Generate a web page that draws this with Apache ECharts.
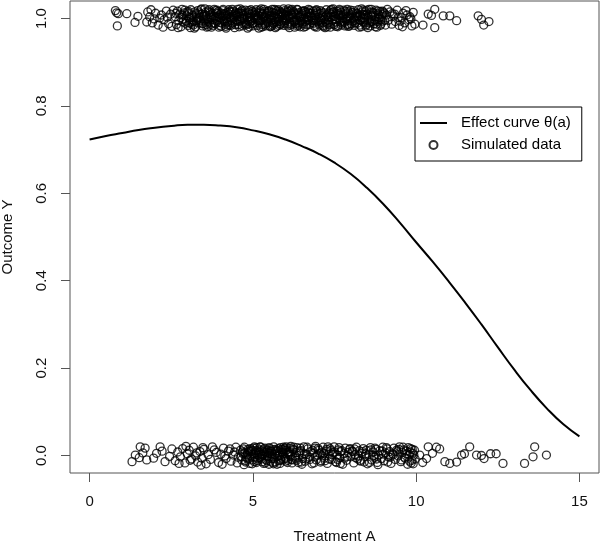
<!DOCTYPE html>
<html>
<head>
<meta charset="utf-8">
<script src="https://cdn.jsdelivr.net/npm/echarts@6/dist/echarts.min.js"></script>
<style>html,body{margin:0;padding:0;background:#fff}#c{width:600px;height:543px}</style>
</head>
<body>
<div id="c"></div>
<script>
// Effect curve theta(a)
var curveA = [0,0.5,1,1.5,2,2.5,3,3.5,4,4.5,5,5.5,6,6.5,7,7.5,8,8.5,9,9.5,10,10.5,11,11.5,12,12.5,13,13.5,14,14.5,15];
var curveTheta = [0.723,0.731,0.738,0.745,0.750,0.754,0.757,0.757,0.755,0.751,0.744,0.735,0.723,0.708,0.691,0.670,0.644,0.612,0.575,0.533,0.488,0.444,0.398,0.350,0.300,0.248,0.197,0.150,0.108,0.072,0.044];

// Simulated data with outcome 1 (jittered vertically)
var onesPoints = [
[0.79,1.018],[0.83,1.013],[0.88,1.011],[1.14,1.011],[1.48,1.005],[0.85,0.983],[1.39,0.991],
[1.78,1.015],[1.84,1.004],[1.92,0.990],[2.02,1.012],[1.75,0.992],[1.88,1.020],[2.10,0.985],[2.20,1.008],[2.28,0.997],[2.35,1.017],[2.42,0.988],[2.15,1.001],[2.48,1.010],[2.52,0.982],[1.98,0.999],[2.38,1.003],[2.56,1.019],[2.25,0.980],
[2.62,1.004],[2.66,0.986],[2.69,1.017],[2.73,0.995],[2.76,1.010],[2.80,0.981],[2.83,1.021],[2.87,0.999],[2.90,1.013],[2.94,0.989],
[2.97,1.006],[2.64,1.012],[2.71,0.979],[2.79,1.002],[2.86,0.992],[2.92,1.019],[3.01,0.984],[3.04,1.011],[3.07,0.997],[3.10,1.020],
[3.13,0.987],[3.16,1.007],[3.19,0.993],[3.22,1.015],[3.25,0.981],[3.28,1.003],[3.31,1.018],[3.34,0.990],[3.37,1.009],[3.40,0.996],
[3.43,1.022],[3.46,0.983],[3.49,1.005],[3.52,0.994],[3.55,1.014],[3.58,0.986],[3.61,1.000],[3.64,1.017],[3.67,0.991],[3.70,1.008],
[3.73,0.980],[3.76,1.012],[3.79,0.998],[3.82,1.021],[3.85,0.988],[3.88,1.004],[3.91,0.994],[3.94,1.016],[3.97,0.984],[3.99,1.009],
[3.06,1.001],[3.21,0.978],[3.36,1.013],[3.50,0.999],[3.63,0.982],[3.78,1.006],[3.90,1.019],[3.15,0.992],[3.44,1.010],[3.72,0.987],
[4.02,1.002],[4.05,0.989],[4.08,1.018],[4.11,0.996],[4.14,1.011],[4.17,0.982],[4.20,1.007],[4.23,0.993],[4.26,1.020],[4.29,0.985],
[4.32,1.003],[4.35,1.015],[4.38,0.990],[4.41,1.009],[4.44,0.979],[4.47,1.013],[4.50,0.997],[4.53,1.021],[4.56,0.986],[4.59,1.005],
[4.62,0.994],[4.65,1.017],[4.68,0.983],[4.71,1.008],[4.74,0.998],[4.77,1.019],[4.80,0.988],[4.83,1.002],[4.86,1.014],[4.89,0.981],
[4.92,1.010],[4.95,0.995],[4.98,1.016],[4.04,1.012],[4.19,1.000],[4.33,0.984],[4.48,1.006],[4.61,1.022],[4.76,0.991],[4.90,1.004],
[4.13,0.993],[4.40,1.017],[4.66,1.001],[4.85,0.987],[4.27,1.010],[5.01,0.990],[5.04,1.013],[5.07,0.999],[5.10,1.020],[5.13,0.984],
[5.16,1.006],[5.19,0.994],[5.22,1.015],[5.25,0.980],[5.28,1.009],[5.31,0.997],[5.34,1.021],[5.37,0.987],[5.40,1.003],[5.43,1.012],
[5.46,0.991],[5.49,1.018],[5.52,0.983],[5.55,1.007],[5.58,0.996],[5.61,1.014],[5.64,0.988],[5.67,1.001],[5.70,1.019],[5.73,0.982],
[5.76,1.010],[5.79,0.993],[5.82,1.016],[5.85,0.986],[5.88,1.005],[5.91,0.998],[5.94,1.022],[5.97,0.989],[5.99,1.008],[5.03,1.002],
[5.18,0.978],[5.32,1.011],[5.47,1.000],[5.60,0.985],[5.74,1.017],[5.89,0.992],[5.09,1.015],[5.24,0.995],[5.38,1.008],[5.53,0.981],
[5.68,1.012],[5.83,1.003],[5.95,0.984],[5.12,1.004],[5.41,0.989],[5.66,1.021],[5.86,1.011],[6.01,0.995],[6.04,1.014],[6.07,0.983],
[6.10,1.007],[6.13,0.992],[6.16,1.019],[6.19,0.987],[6.22,1.002],[6.25,1.013],[6.28,0.980],[6.31,1.010],[6.34,0.997],[6.37,1.020],
[6.40,0.985],[6.43,1.005],[6.46,0.994],[6.49,1.016],[6.52,0.989],[6.55,1.001],[6.58,1.018],[6.61,0.982],[6.64,1.009],[6.67,0.996],
[6.70,1.021],[6.73,0.986],[6.76,1.004],[6.79,1.012],[6.82,0.991],[6.85,1.017],[6.88,0.984],[6.91,1.007],[6.94,0.998],[6.97,1.015],
[6.03,1.000],[6.18,1.011],[6.32,0.988],[6.47,1.008],[6.60,0.993],[6.75,1.019],[6.90,0.981],[6.12,0.979],[6.39,1.013],[6.66,1.003],
[6.84,0.995],[6.24,1.016],[6.54,0.987],[7.01,1.010],[7.04,0.985],[7.07,1.018],[7.10,0.997],[7.13,1.006],[7.16,0.982],[7.19,1.013],
[7.22,0.993],[7.25,1.020],[7.28,0.988],[7.31,1.003],[7.34,1.015],[7.37,0.980],[7.40,1.009],[7.43,0.996],[7.46,1.022],[7.49,0.986],
[7.52,1.005],[7.55,0.992],[7.58,1.017],[7.61,0.984],[7.64,1.008],[7.67,0.999],[7.70,1.014],[7.73,0.989],[7.76,1.002],[7.79,1.019],
[7.82,0.983],[7.85,1.011],[7.88,0.995],[7.91,1.016],[7.94,0.987],[7.97,1.006],[7.06,1.001],[7.21,0.979],[7.36,1.012],[7.50,0.998],
[7.65,1.021],[7.80,0.991],[7.93,1.004],[7.15,0.990],[7.44,1.014],[7.71,0.985],[8.02,1.009],[8.05,0.994],[8.08,1.018],[8.11,0.984],
[8.14,1.004],[8.17,1.013],[8.20,0.989],[8.23,1.020],[8.26,0.997],[8.29,1.007],[8.32,0.981],[8.35,1.015],[8.38,0.992],[8.41,1.002],
[8.44,1.017],[8.47,0.986],[8.50,1.010],[8.53,0.996],[8.56,1.021],[8.59,0.983],[8.62,1.006],[8.65,0.993],[8.68,1.014],[8.71,0.988],
[8.74,1.003],[8.77,1.019],[8.80,0.980],[8.83,1.011],[8.86,0.998],[8.89,1.016],[8.92,0.987],[8.95,1.005],[8.98,0.994],[9.02,1.012],
[9.06,0.985],[9.09,1.008],[8.10,1.000],[8.28,0.985],[8.45,1.008],[8.63,1.021],[8.81,0.993],[8.96,1.017],[8.19,1.011],[8.52,0.979],
[2.84,1.008],[2.96,0.994],[3.03,1.016],[3.11,1.003],[3.18,0.985],[3.27,1.011],[3.33,0.998],[3.41,1.020],[3.48,0.989],[3.57,1.007],
[3.62,0.993],[3.69,1.014],[3.77,0.984],[3.84,1.001],[3.92,1.011],[3.98,0.991],[4.07,1.005],[4.15,0.987],[4.22,1.014],[4.31,0.999],
[4.37,1.021],[4.45,0.992],[4.51,1.008],[4.58,0.981],[4.64,1.012],[4.72,1.000],[4.79,0.985],[4.87,1.018],[4.93,1.001],[4.99,0.988],
[5.06,1.009],[5.14,0.996],[5.21,1.019],[5.29,0.986],[5.35,1.004],[5.42,0.994],[5.50,1.015],[5.57,0.982],[5.63,1.006],[5.71,0.993],
[5.78,1.020],[5.84,0.988],[5.92,1.010],[5.98,0.999],[6.06,1.017],[6.14,0.985],[6.21,1.008],[6.27,0.995],[6.35,1.021],[6.42,0.990],
[6.48,1.003],[6.56,0.980],[6.63,1.014],[6.71,0.997],[6.78,1.006],[6.86,0.989],[6.93,1.018],[6.99,0.993],[7.08,1.012],[7.14,0.984],
[7.23,1.004],[7.30,0.996],[7.38,1.019],[7.45,0.988],[7.53,1.011],[7.60,0.981],[7.68,1.007],[7.75,0.994],[7.83,1.016],[7.90,0.986],
[7.98,1.001],[8.06,1.013],[8.13,0.990],[8.21,1.006],[8.30,0.995],[8.37,1.019],[8.46,0.983],[8.54,1.004],[8.61,0.992],[8.69,1.012],
[8.78,0.987],[8.85,1.008],[8.93,0.997],[9.00,1.015],[3.09,0.979],[3.53,1.022],[3.96,0.980],[4.42,1.001],[4.84,0.978],[5.26,1.022],
[5.69,0.979],[6.09,1.022],[6.51,1.011],[6.96,0.980],[7.41,1.021],[7.86,1.000],[8.33,1.022],[8.75,0.981],[3.26,0.995],[3.68,1.003],
[4.10,1.009],[4.55,0.994],[4.97,1.011],[5.39,0.983],[5.81,1.007],[6.26,0.991],[6.69,1.015],[7.12,1.002],[7.56,0.997],[7.99,1.019],
[8.43,0.990],[8.88,1.002],[5.55,1.000],[5.98,1.018],[6.44,1.002],[6.87,0.997],[7.32,0.991],[7.77,1.010],[4.24,0.985],[4.69,1.012],
[5.15,1.000],[5.62,0.990],[6.05,1.004],[6.57,1.016],[7.02,0.995],[7.47,1.005],[7.92,0.982],[8.40,1.009],[5.45,1.016],[6.36,0.983],
[3.52,1.009],[3.59,0.980],[3.66,1.020],[3.74,1.001],[3.81,0.990],[3.89,1.013],[3.95,1.003],[4.03,0.982],[4.09,1.021],[4.16,1.006],
[4.21,0.991],[4.28,1.016],[4.34,0.996],[4.39,1.005],[4.46,0.986],[4.54,1.012],[4.60,0.999],[4.67,1.019],[4.73,0.987],[4.81,1.011],
[4.88,0.996],[4.94,1.020],[5.00,0.983],[5.08,1.007],[5.17,0.990],[5.23,1.012],[5.30,0.981],[5.36,1.017],[5.44,0.998],[5.51,1.005],
[5.59,1.021],[5.65,0.992],[5.72,1.003],[5.80,0.984],[5.87,1.014],[5.93,0.995],[6.00,1.010],[6.08,0.988],[6.15,1.002],[6.20,1.021],
[6.29,0.993],[6.38,1.007],[6.45,0.981],[6.53,1.017],[6.59,1.000],[6.65,0.986],[6.72,1.012],[6.80,1.001],[6.89,0.995],[6.95,1.020],
[7.03,0.989],[7.11,1.015],[7.18,0.998],[7.26,1.008],[7.33,0.986],[7.39,1.003],[7.48,1.016],[7.54,0.982],[7.62,1.011],[7.69,0.992],
[7.78,1.006],[7.84,0.997],[7.89,1.021],[7.96,0.983],[8.04,1.014],[8.12,0.996],[8.18,1.005],[8.25,0.980],[8.34,1.010],[8.42,0.998],
[8.49,1.019],[8.58,0.990],[8.66,1.008],[8.73,0.995],[8.82,1.017],[8.90,0.984],[8.97,1.009],[3.35,1.002],[3.45,0.988],[3.85,1.018],
[4.18,0.978],[4.57,1.014],[4.91,0.992],[5.33,1.002],[5.77,0.999],[6.11,1.016],[6.50,0.994],[6.92,1.011],[7.27,0.981],[7.66,1.018],
[8.01,0.988],[8.36,1.001],[8.64,1.015],[3.05,0.990],[2.99,1.015],[9.04,0.996],[9.27,1.011],[9.51,0.994],[9.69,1.018],[9.84,0.999],
[9.15,0.996],[9.20,1.015],[9.25,0.987],[9.30,1.006],[9.36,0.993],[9.42,1.019],[9.48,0.984],[9.55,1.002],[9.60,1.012],[9.65,0.990],
[9.72,1.008],[9.78,0.997],[9.81,1.004],[9.87,0.983],[9.91,1.014],[9.96,0.987],[9.34,1.010],[9.58,0.981],[9.12,1.021],[9.45,1.003],
[10.21,0.985],[10.37,1.010],[10.47,1.007],[10.57,1.021],[10.57,0.979],[10.83,1.006],[11.03,1.006],[11.24,0.995],[11.90,1.006],[12.00,0.998],[12.07,0.985],[12.23,0.993]
];

// Simulated data with outcome 0 (jittered vertically)
var zerosPoints = [
[1.30,-0.014],[1.40,0.001],[1.55,0.020],[1.70,0.017],[1.52,-0.005],[1.75,-0.010],[1.96,-0.006],[2.16,0.020],[2.31,-0.014],[2.05,0.005],[2.22,0.010],[2.45,-0.002],[1.63,0.006],[2.52,0.015],
[2.62,-0.012],[2.70,0.008],[2.78,-0.003],[2.85,0.016],[2.92,-0.017],[2.99,0.004],[3.05,0.012],[3.12,-0.008],[3.18,0.019],[3.25,-0.001],
[3.31,-0.015],[3.38,0.009],[3.44,-0.006],[3.50,0.014],[3.57,-0.019],[3.63,0.002],[2.74,-0.018],[2.95,0.021],[3.08,-0.011],[3.28,0.006],
[3.47,0.018],[3.70,-0.009],[3.82,0.013],[3.95,-0.016],[4.02,0.003],[4.10,0.017],[4.18,-0.007],[4.25,0.010],[4.33,-0.013],[4.40,0.001],
[4.48,0.019],[4.55,-0.004],[3.88,0.007],[4.06,-0.020],[4.30,0.015],[4.52,-0.017],[3.76,0.020],[4.14,-0.001],[3.41,-0.022],[4.44,0.008],
[4.62,0.012],[4.66,-0.010],[4.70,0.004],[4.74,0.019],[4.78,-0.015],[4.82,0.001],[4.86,0.014],[4.90,-0.006],[4.94,0.009],[4.98,-0.019],
[5.02,0.017],[5.06,-0.003],[5.10,0.011],[5.14,-0.012],[5.18,0.006],[5.22,0.020],[5.26,-0.008],[5.30,0.002],[5.34,0.015],[5.38,-0.017],
[5.42,0.008],[5.46,-0.001],[5.50,0.018],[5.54,-0.013],[5.58,0.004],[5.62,0.013],[5.66,-0.006],[5.70,0.010],[5.74,-0.020],[5.78,0.016],
[5.82,0.000],[5.86,-0.011],[5.90,0.007],[5.94,0.019],[5.98,-0.004],[6.02,0.012],[6.06,-0.016],[6.10,0.003],[6.14,0.017],[6.18,-0.009],
[4.68,0.008],[4.80,-0.004],[4.92,0.016],[5.04,-0.014],[5.16,0.001],[5.28,0.011],[5.40,-0.009],[5.52,0.005],[5.64,0.020],[5.76,-0.002],
[5.88,0.014],[6.00,-0.007],[6.12,0.009],[4.73,-0.021],[4.97,0.003],[5.21,-0.005],[5.45,0.012],[5.69,-0.015],[5.93,0.004],[6.16,0.021],
[5.12,0.018],[5.33,-0.018],[5.57,0.009],[5.80,-0.012],[6.05,0.006],[4.88,0.010],[5.36,0.003],[5.60,-0.003],[5.84,0.018],[5.08,0.007],
[6.22,-0.010],[6.26,0.013],[6.30,-0.002],[6.35,0.018],[6.39,-0.016],[6.43,0.006],[6.47,0.011],[6.52,-0.007],[6.56,0.020],[6.60,-0.013],
[6.64,0.002],[6.68,0.015],[6.73,-0.004],[6.77,0.009],[6.81,-0.019],[6.85,0.005],[6.90,0.017],[6.94,-0.010],[6.98,0.001],[7.02,0.012],
[7.07,-0.015],[7.11,0.007],[7.15,0.019],[7.19,-0.006],[7.24,0.010],[7.28,-0.018],[7.32,0.003],[7.36,0.016],[7.41,-0.009],[7.45,0.006],
[7.49,0.020],[7.53,-0.014],[7.58,0.001],[7.62,0.013],[7.66,-0.005],[7.70,0.009],[7.75,-0.020],[7.79,0.004],[7.83,0.017],[7.87,-0.011],
[7.92,0.007],[7.96,0.014],[8.00,-0.003],[8.04,0.010],[8.09,-0.017],[8.13,0.002],[8.17,0.019],[8.21,-0.008],[8.26,0.011],[8.30,-0.013],
[8.34,0.005],[8.38,0.016],[8.43,-0.002],[8.47,0.012],[8.51,-0.019],[8.55,0.003],[8.60,0.018],[8.64,-0.010],[8.68,0.008],[8.72,-0.004],
[8.77,0.014],[8.81,-0.016],[8.85,0.001],[8.89,0.011],[8.94,-0.007],[8.98,0.019],[9.02,-0.012],[9.06,0.006],[9.11,0.015],[9.15,-0.003],
[9.19,0.009],[9.23,-0.018],[9.28,0.004],[9.32,0.017],[9.36,-0.009],[9.40,0.012],[9.45,-0.001],[9.49,0.020],[9.53,-0.014],[9.57,0.007],
[9.62,0.013],[9.66,-0.006],[9.70,0.010],[9.74,-0.020],[9.79,0.002],[9.83,0.016],[9.87,-0.011],[9.90,0.005],[9.85,-0.017],[9.76,0.018],
[6.33,0.007],[6.62,-0.008],[6.92,0.021],[7.21,-0.012],[7.51,0.008],[7.81,-0.006],[8.11,0.015],[8.41,-0.015],[8.70,0.000],[9.00,0.003],
[6.50,-0.020],[7.05,0.004],[7.64,0.018],[8.24,-0.001],[8.83,-0.021],[9.42,0.009],[9.91,-0.019],[9.95,0.012],[9.97,-0.008],[9.80,-0.013],
[5.03,0.004],[5.11,-0.016],[5.19,0.013],[5.27,-0.002],[5.35,0.009],[5.43,-0.012],[5.51,0.016],[5.59,-0.007],[5.67,0.003],[5.75,0.011],
[5.83,-0.018],[5.91,0.008],[5.99,0.017],[6.07,-0.011],[6.15,0.002],[6.23,0.014],[6.31,-0.006],[6.41,0.010],[6.49,-0.015],[6.58,0.004],
[6.66,0.019],[6.75,-0.009],[6.83,0.012],[6.91,-0.003],[7.00,0.016],[7.09,-0.012],[7.17,0.005],[7.26,0.014],[7.34,-0.008],[7.43,0.002],
[7.56,-0.016],[7.72,0.011],[7.89,-0.002],[8.07,0.009],[8.28,-0.011],[8.45,0.004],[8.62,0.013],[8.79,-0.008],[8.96,0.010],[9.13,-0.015],
[9.30,0.002],[9.47,0.014],[9.64,-0.004],[9.82,0.008],[9.93,0.001],[4.85,-0.008],[5.24,0.019],[5.63,-0.019],[6.02,0.020],[6.45,0.017],
[6.87,-0.017],[7.30,0.020],[7.68,-0.018],[8.15,-0.005],[8.57,-0.016],[9.09,0.018],[9.60,0.019],[4.95,0.013],[5.47,0.006],[5.95,-0.008],
[4.64,-0.003],[4.71,0.015],[4.77,-0.012],[4.84,0.006],[4.91,-0.018],[4.99,0.011],[5.05,0.020],[5.13,-0.006],[5.20,0.008],[5.29,-0.014],
[5.37,0.017],[5.44,-0.003],[5.53,0.010],[5.61,-0.016],[5.68,0.014],[5.77,0.001],[5.85,-0.009],[5.92,0.013],[6.01,-0.013],[6.09,0.008],
[6.17,-0.002],[6.25,0.019],[6.34,-0.011],[4.76,0.006],[5.00,-0.010],[5.25,0.003],[5.49,-0.020],[5.72,0.006],[5.97,0.015],[6.20,-0.017],
[7.13,-0.001],[7.39,0.011],[7.60,-0.009],[7.98,0.016],[8.36,0.009],[8.74,0.017],[9.21,-0.004],[9.55,-0.010],[9.72,0.004],[9.88,0.014],
[10.11,0.001],[10.32,-0.007],[10.37,0.020],[10.62,0.019],[10.72,0.015],[10.88,-0.014],[11.03,-0.018],[11.24,-0.015],[11.39,0.001],[11.48,0.004],
[11.64,0.020],[11.85,0.001],[12.00,0.000],[12.08,-0.007],[12.28,0.004],[12.45,0.004],[12.66,-0.018],[13.32,-0.018],[13.58,-0.003],[13.63,0.020],
[13.99,0.001],[10.20,-0.016],[10.50,0.005]
];

var xTicks = [0, 5, 10, 15];
var yTicks = [0, 0.2, 0.4, 0.6, 0.8, 1.0];
var xTitle = 'Treatment A';
var yTitle = 'Outcome Y';
var curveName = 'Effect curve \u03b8(a)';
var dataName = 'Simulated data';

var FONT = '"Liberation Sans", Arial, Helvetica, sans-serif';
var chart = echarts.init(document.getElementById('c'), null, {renderer: 'canvas'});
var allData = onesPoints.concat(zerosPoints);
var curveData = curveA.map(function (a, i) { return [a, curveTheta[i]]; });

chart.setOption({
  animation: false,
  backgroundColor: '#fff',
  grid: {left: 70, right: 1, top: 1, bottom: 70, show: true, borderColor: '#555', borderWidth: 1,
         backgroundColor: 'transparent', containLabel: false, outerBoundsMode: 'none'},
  legend: {
    orient: 'vertical', left: 415, top: 107,
    padding: [6, 11, 6, 5],
    itemWidth: 27, itemHeight: 8, itemGap: 2,
    borderColor: '#000', borderWidth: 1, borderRadius: 0,
    selectedMode: false,
    textStyle: {fontFamily: FONT, fontSize: 15, color: '#000', lineHeight: 20, padding: [0, 0, 0, 9]},
    data: [
      {name: curveName, icon: 'path://M0,0H27V2H0Z', itemStyle: {color: '#000', borderWidth: 0}},
      {name: dataName}
    ]
  },
  xAxis: {
    type: 'value', min: -0.6, max: 15.6,
    name: xTitle, nameLocation: 'middle', nameGap: 56,
    nameTextStyle: {fontFamily: FONT, fontSize: 15, color: '#111'},
    axisLine: {show: false, onZero: false},
    axisTick: {show: true, length: 9, inside: false, customValues: xTicks, lineStyle: {color: '#555'}},
    axisLabel: {customValues: xTicks, margin: 21, fontFamily: FONT, fontSize: 15, color: '#111'},
    splitLine: {show: false}
  },
  yAxis: {
    type: 'value', min: -0.04, max: 1.04,
    name: yTitle, nameLocation: 'middle', nameGap: 55, nameRotate: 90,
    nameTextStyle: {fontFamily: FONT, fontSize: 15, color: '#111'},
    axisLine: {show: false, onZero: false},
    axisTick: {show: true, length: 9, inside: false, customValues: yTicks, lineStyle: {color: '#555'}},
    axisLabel: {customValues: yTicks, rotate: 90, margin: 21, fontFamily: FONT, fontSize: 15, color: '#111',
      formatter: function (v) { return v.toFixed(1); }},
    splitLine: {show: false}
  },
  series: [
    {
      name: dataName, type: 'scatter', data: allData,
      symbol: 'circle', symbolSize: 8,
      itemStyle: {color: 'rgba(0,0,0,0)', borderColor: '#000', borderWidth: 1.3},
      emphasis: {disabled: true}, z: 2
    },
    {
      name: curveName, type: 'line', data: curveData,
      symbol: 'none', smooth: 0.5,
      lineStyle: {color: '#000', width: 2},
      itemStyle: {color: '#000'},
      emphasis: {disabled: true}, z: 3
    }
  ]
});
</script>
</body>
</html>
